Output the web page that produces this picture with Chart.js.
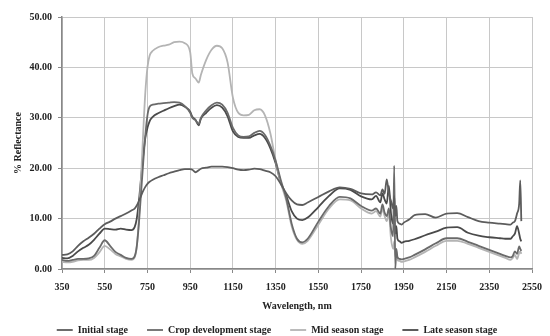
<!DOCTYPE html>
<html>
<head>
<meta charset="utf-8">
<script src="https://cdn.jsdelivr.net/npm/chart.js@4"></script>
<style>
  html, body { margin: 0; padding: 0; background: #fff; }
  #chart { display: block; }
</style>
</head>
<body>
<canvas id="chart" width="550" height="336"></canvas>
<script>
// Wavelengths (nm) shared by all four spectra
const wavelengths = [
  350, 375, 400, 425, 450, 475, 500, 525, 550, 575,
  600, 625, 650, 675, 690, 700, 710, 720, 730, 740,
  750, 760, 775, 800, 825, 850, 875, 900, 925, 950,
  960, 975, 990, 1000, 1025, 1050, 1075, 1100, 1125, 1150,
  1175, 1200, 1225, 1250, 1275, 1300, 1325, 1350, 1375, 1400,
  1425, 1450, 1475, 1500, 1550, 1600, 1650, 1700, 1750, 1800,
  1820, 1840, 1850, 1860, 1870, 1880, 1890, 1900, 1905, 1910,
  1915, 1920, 1930, 1940, 1950, 1975, 2000, 2050, 2100, 2150,
  2200, 2250, 2300, 2350, 2400, 2425, 2450, 2460, 2470, 2480,
  2490, 2495, 2500
];

// % reflectance
const initialStage = [
  2.8, 2.9, 3.5, 4.6, 5.5, 6.2, 7.0, 8.0, 8.9, 9.4,
  10.0, 10.5, 11.0, 11.6, 12.0, 12.6, 13.5, 14.5, 15.5, 16.3,
  16.9, 17.3, 17.7, 18.2, 18.6, 19.0, 19.3, 19.6, 19.8, 19.8,
  19.7, 19.2, 19.6, 19.9, 20.1, 20.3, 20.3, 20.3, 20.2, 20.0,
  19.7, 19.6, 19.7, 19.9, 19.8, 19.5, 19.2, 18.4, 16.8, 15.0,
  13.6, 12.8, 12.7, 13.2, 14.3, 15.4, 16.2, 15.9, 15.0, 14.8,
  15.2, 14.6, 15.8, 14.9, 17.8, 15.0, 13.5, 12.0, 14.5, 10.5,
  12.5, 9.5, 9.0, 8.8, 9.2, 9.8, 10.7, 10.9, 10.2, 11.0,
  11.1, 10.3, 9.5, 9.2, 9.0, 8.9, 8.8, 9.2, 9.5, 11.0,
  13.0, 17.6, 9.5
];

const cropDevelopment = [
  1.8, 1.6, 1.8, 2.0, 2.0, 2.1, 2.6, 4.2, 5.7, 4.6,
  3.4, 2.8, 2.2, 2.0, 2.5, 4.5, 9.0, 15.0, 21.0, 26.5,
  30.5, 32.2, 32.6, 32.8, 32.9, 33.0, 33.1, 33.0, 32.3, 31.0,
  30.0, 29.5, 28.8, 30.0, 31.5, 32.5, 33.0, 32.6, 31.0, 28.0,
  26.5, 26.2, 26.3, 27.0, 27.4, 26.6, 24.5, 21.5, 17.5, 14.0,
  9.0, 6.0, 5.3, 6.0, 9.4, 12.5, 14.3, 14.0, 12.5, 11.6,
  12.0, 11.0, 12.8, 11.2, 10.5, 12.0, 8.0, 6.5, 20.5, 0.0,
  4.0, 2.4, 2.0, 1.9, 2.0, 2.3, 2.8, 3.9, 5.1, 6.1,
  6.1, 5.4, 4.6, 3.8, 3.0, 2.6, 2.3, 2.6, 3.5, 3.0,
  4.5, 4.0, 3.6
];

const midSeason = [
  1.4, 1.3, 1.4, 1.7, 1.8, 1.8, 2.2, 3.3, 4.6, 3.9,
  3.0, 2.5, 2.0, 1.8, 2.3, 4.5, 10.0, 18.0, 27.0, 35.0,
  40.0, 42.3, 43.3, 44.0, 44.3, 44.5, 45.0, 45.1, 44.8, 43.0,
  38.8, 37.8, 37.0, 38.5, 41.5, 43.5, 44.3, 43.8, 41.0, 34.0,
  31.0, 30.5, 30.6, 31.5, 31.7, 30.5, 27.0, 21.5, 17.0, 13.5,
  8.5, 5.8, 5.0, 5.6, 8.8, 12.0, 13.8, 13.6, 12.0, 11.0,
  11.5, 10.4, 12.0, 10.5, 9.5, 11.0, 6.0, 4.0, 5.5, 2.5,
  3.5, 1.8, 1.6, 1.4, 1.5, 1.8, 2.3, 3.4, 4.6, 5.6,
  5.6, 5.0, 4.2, 3.4, 2.6, 2.2, 1.8, 2.2, 2.8, 2.0,
  3.2, 3.5, 3.0
];

const lateSeason = [
  2.2, 2.1, 2.6, 3.5, 4.2, 4.8, 5.8, 7.0, 8.0, 7.9,
  7.8, 8.0, 7.8, 7.7, 8.3, 10.0, 13.5, 18.0, 22.5, 26.0,
  28.0, 29.3, 30.2, 30.9, 31.4, 31.9, 32.3, 32.6, 32.2, 31.2,
  30.2, 29.6, 28.5, 29.8, 31.0, 32.0, 32.5, 32.0, 30.3, 27.3,
  26.2, 26.0, 26.0, 26.5, 26.8, 26.0, 24.0, 21.0, 17.0, 14.5,
  11.5, 10.0, 9.7, 10.2, 12.3, 14.5, 16.0, 15.7, 14.4, 13.8,
  14.5, 13.2, 15.0, 13.8, 13.0, 16.5, 11.0, 9.0, 11.5, 7.0,
  8.5, 6.0, 5.5, 5.2, 5.4, 5.6, 5.9, 6.7, 7.4, 8.2,
  8.3, 7.2, 6.6, 6.3, 6.1, 6.0, 6.0, 6.5, 7.0, 8.5,
  7.0, 6.0, 5.5
];

const seriesNames = ['Initial stage', 'Crop development stage', 'Mid season stage', 'Late season stage'];
const seriesColors = ['#5c5c5c', '#6a6a6a', '#b4b4b4', '#4a4a4a'];
const xTicks = [350, 550, 750, 950, 1150, 1350, 1550, 1750, 1950, 2150, 2350, 2550];

const boldSerif = { family: '"Liberation Serif", "Times New Roman", serif', size: 10, weight: 'bold' };

const toPoints = arr => wavelengths.map((w, i) => ({ x: w, y: arr[i] }));

const datasets = [initialStage, cropDevelopment, midSeason, lateSeason].map((arr, i) => ({
  label: seriesNames[i],
  data: toPoints(arr),
  borderColor: seriesColors[i],
  backgroundColor: seriesColors[i],
  borderWidth: 1.8,
  pointRadius: 0,
  cubicInterpolationMode: 'monotone',
  fill: false
}));

const chart = new Chart(document.getElementById('chart'), {
  type: 'line',
  data: { datasets },
  options: {
    responsive: false,
    animation: false,
    layout: { padding: { top: 17, right: 8, left: 12, bottom: 0 } },
    scales: {
      x: {
        type: 'linear',
        min: 350,
        max: 2550,
        afterBuildTicks: scale => { scale.ticks = xTicks.map(v => ({ value: v })); },
        afterFit: scale => { scale.height = 37; },
        ticks: { font: boldSerif, color: '#222', maxRotation: 0, autoSkip: false, padding: 8, callback: v => String(v) },
        grid: { color: '#c8c8c8', tickColor: '#888', tickLength: 4 },
        border: { color: '#888', width: 1.5 },
        title: { display: true, text: 'Wavelength, nm', font: boldSerif, color: '#222', padding: { top: 4, bottom: -6 } }
      },
      y: {
        min: 0,
        max: 50,
        afterFit: scale => { scale.width = 50; },
        ticks: { stepSize: 10, font: boldSerif, color: '#222', padding: 6, callback: v => v.toFixed(2) },
        grid: { color: '#c8c8c8', tickColor: '#888', tickLength: 4 },
        border: { color: '#888', width: 1.5 },
        title: { display: true, text: '% Reflectance', font: boldSerif, color: '#222', padding: { top: 0, bottom: 0 } }
      }
    },
    plugins: {
      legend: {
        position: 'bottom',
        labels: {
          usePointStyle: true,
          pointStyle: 'line',
          pointStyleWidth: 16,
          font: boldSerif,
          color: '#222',
          padding: 19,
          boxHeight: 10
        }
      },
      tooltip: { enabled: false }
    }
  }
});

// keep the wide item spacing but a short legend box
const legendFit = chart.legend.fit;
chart.legend.fit = function () {
  legendFit.call(this);
  this.height = 30;
};
chart.update();
</script>
</body>
</html>
